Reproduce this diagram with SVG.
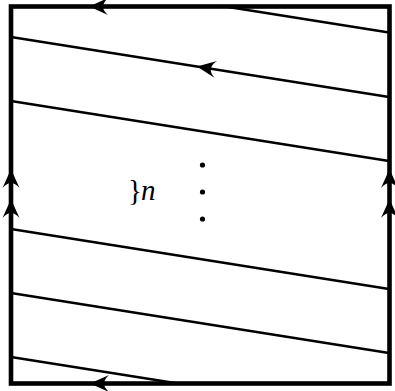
<svg xmlns="http://www.w3.org/2000/svg" width="395" height="391" viewBox="0 0 395 391">
<style>
.ln{stroke:#000;stroke-width:2.6;fill:none;stroke-linecap:butt}
.fr{stroke:#000;stroke-width:4.6;fill:none;stroke-linejoin:miter}
.ah{fill:#000;stroke:none}
.lbl{font-family:"Liberation Serif",serif;font-size:29px;fill:#000}
</style>
<defs>
<path id="arr" class="ah" d="M0,0 Q8,-3.5 19,-8.5 Q14,-4 14,0 Q14,4 19,8.5 Q8,3.5 0,0 Z"/>
</defs>
<rect width="395" height="391" fill="#fff"/>
<g id="connectors">
<line class="ln" x1="389" y1="32.5" x2="222" y2="6"/>
<line class="ln" x1="11" y1="37" x2="389" y2="97"/>
<line class="ln" x1="11" y1="101" x2="389" y2="161"/>
<line class="ln" x1="11" y1="229" x2="389" y2="289"/>
<line class="ln" x1="11" y1="293" x2="389" y2="353"/>
<line class="ln" x1="11" y1="357" x2="178" y2="383.5"/>
</g>
<g id="frame">
<rect class="fr" x="11" y="6.5" width="378.5" height="377"/>
</g>
<g id="arrows">
<use href="#arr" transform="translate(89,6.5)"/>
<use href="#arr" transform="translate(197,66.5) rotate(9)"/>
<use href="#arr" transform="translate(90,383.5)"/>
<use href="#arr" transform="translate(11,169) rotate(90)"/>
<use href="#arr" transform="translate(11,199) rotate(90)"/>
<use href="#arr" transform="translate(389.5,169) rotate(90)"/>
<use href="#arr" transform="translate(389.5,199) rotate(90)"/>
</g>
<g id="label">
<text class="lbl" x="128" y="200">}<tspan font-style="italic" dx="-1">n</tspan></text>
<circle cx="202.5" cy="165" r="2.6"/>
<circle cx="202.5" cy="192" r="2.6"/>
<circle cx="202.5" cy="219" r="2.6"/>
</g>
</svg>
